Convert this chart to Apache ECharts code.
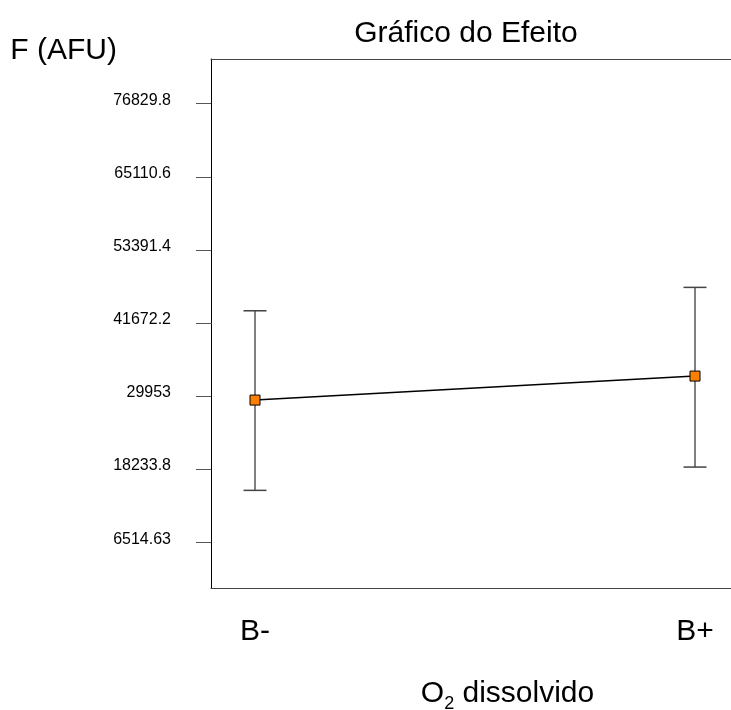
<!DOCTYPE html>
<html><head><meta charset="utf-8">
<script src="https://cdn.jsdelivr.net/npm/echarts@6/dist/echarts.min.js"></script>
<style>html,body{margin:0;padding:0;background:#fff}#c{width:731px;height:710px}</style>
</head><body><div id="c"></div>
<script>
const categories = ['B-', 'B+'];
const means = [29360, 33204];
const upper = [43663, 47410];
const lower = [14898, 18630];
const yTickLabels = ['6514.63', '18233.8', '29953', '41672.2', '53391.4', '65110.6', '76829.8'];
const yTickValues = yTickLabels.map(Number);
const xTickValues = categories.map((c, i) => i);

const FONT = 'Liberation Sans, Arial, sans-serif';
const chart = echarts.init(document.getElementById('c'), null, {renderer: 'canvas'});

function nearestLabel(v) {
  let best = 0, bd = Infinity;
  yTickValues.forEach((t, i) => { const d = Math.abs(t - v); if (d < bd) { bd = d; best = i; } });
  return yTickLabels[best];
}

chart.setOption({
  animation: false,
  backgroundColor: '#fff',
  textStyle: {fontFamily: FONT},
  title: {
    text: 'Gráfico do Efeito',
    left: 466, top: 19, textAlign: 'center', padding: 0,
    textStyle: {fontSize: 30, fontWeight: 'normal', color: '#000', fontFamily: FONT}
  },
  grid: {left: 211, top: 59, right: 0, height: 529, show: false, containLabel: false, outerBoundsMode: 'none'},
  xAxis: [{
    type: 'value', min: -0.1, max: 1.0818,
    splitLine: {show: false},
    axisLine: {show: true, onZero: false, lineStyle: {color: '#444', width: 1}},
    axisTick: {show: false},
    axisLabel: {
      customValues: xTickValues, margin: 29, fontSize: 30, color: '#000', fontFamily: FONT,
      formatter: v => categories[Math.round(v)]
    },
    name: '{m|O}{s|2}{m| dissolvido}',
    nameLocation: 'middle', nameGap: 91, nameMoveOverlap: false,
    nameTextStyle: {
      color: '#000', fontFamily: FONT, padding: [0, 0, 0, 73],
      rich: {
        m: {fontSize: 30, lineHeight: 30, verticalAlign: 'top', color: '#000', fontFamily: FONT},
        s: {fontSize: 18, lineHeight: 50, verticalAlign: 'middle', color: '#000', fontFamily: FONT}
      }
    }
  }, {
    type: 'value', position: 'top', min: -0.1, max: 1.0818,
    splitLine: {show: false},
    axisLine: {show: true, onZero: false, lineStyle: {color: '#444', width: 1}},
    axisTick: {show: false},
    axisLabel: {show: false}
  }],
  yAxis: {
    type: 'value', min: -740, max: 83990,
    splitLine: {show: false},
    axisLine: {show: true, onZero: false, lineStyle: {color: '#000', width: 1}},
    axisTick: {show: true, length: 15, customValues: yTickValues, lineStyle: {color: '#555', width: 1}},
    axisLabel: {
      customValues: yTickValues, margin: 40, fontSize: 16, color: '#000', fontFamily: FONT,
      verticalAlign: 'bottom', lineHeight: 7,
      formatter: v => nearestLabel(v)
    },
    name: 'F (AFU)', nameLocation: 'end', nameGap: -7, nameMoveOverlap: false,
    nameTextStyle: {fontSize: 30, color: '#000', align: 'right', padding: [0, 94, 0, 0], fontFamily: FONT}
  },
  series: [
    {
      type: 'custom',
      z: 1,
      data: categories.map((c, i) => [i, lower[i], upper[i]]),
      encode: {x: 0, y: [1, 2]},
      renderItem: function (params, api) {
        const x = api.value(0);
        const pHi = api.coord([x, api.value(2)]);
        const pLo = api.coord([x, api.value(1)]);
        const w = 11.5;
        return {
          type: 'group',
          children: [
            {type: 'line', shape: {x1: pHi[0], y1: pHi[1], x2: pLo[0], y2: pLo[1]}, style: {stroke: '#808080', lineWidth: 2}},
            {type: 'line', shape: {x1: pHi[0] - w, y1: pHi[1], x2: pHi[0] + w, y2: pHi[1]}, style: {stroke: '#444', lineWidth: 1.5}},
            {type: 'line', shape: {x1: pLo[0] - w, y1: pLo[1], x2: pLo[0] + w, y2: pLo[1]}, style: {stroke: '#444', lineWidth: 1.5}}
          ]
        };
      }
    },
    {
      type: 'line',
      z: 3,
      data: means.map((m, i) => [i, m]),
      symbol: 'rect', symbolSize: 10,
      itemStyle: {color: '#FF8000', borderColor: '#000', borderWidth: 1},
      lineStyle: {color: '#000', width: 1.5}
    }
  ]
});
</script></body></html>
